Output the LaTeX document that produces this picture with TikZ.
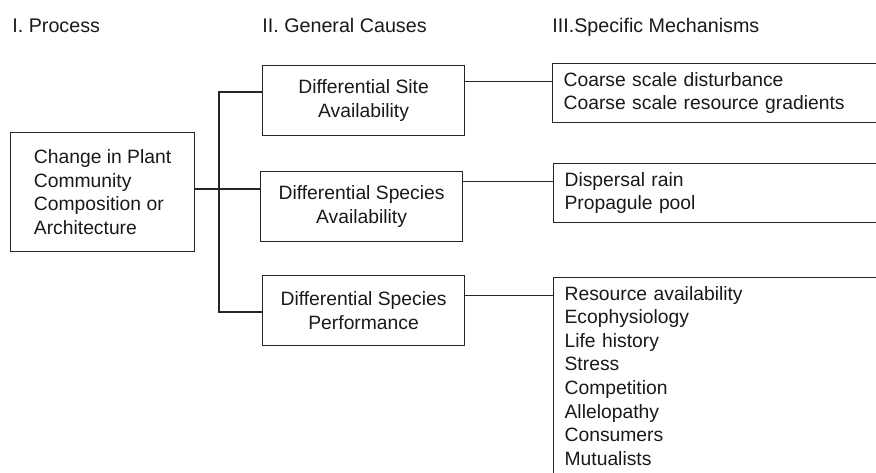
\documentclass[tikz,border=0pt]{standalone}
\usepackage{fontspec}
\setmainfont{Liberation Sans}
\usetikzlibrary{positioning,calc}

\begin{document}
\begin{tikzpicture}[x=0.5pt, y=-0.5pt,
  box/.style={draw=black!85, line width=0.6pt, text=black!90, font=\fontsize{9.65}{11.8}\selectfont},
  cause/.style={box, anchor=north west, minimum width=101pt, minimum height=35pt, align=center},
  mech/.style={box, anchor=north west, text width=200pt, align=left, inner xsep=5.5pt, inner ysep=4.3pt},
  head/.style={anchor=base west, inner sep=0pt, text=black!90, font=\fontsize{9.85}{12}\selectfont},
  link/.style={draw=black!85, line width=0.6pt}]
\useasboundingbox (0,0) rectangle (876,472);
\clip (0,0) rectangle (876,472);
% column headings
\node[head] (h1) at (12,32) {I. Process};
\node[head] (h2) at (262,32) {II. General Causes};
\node[head] (h3) at (552,32) {III.Specific Mechanisms};
% process
\node[box, anchor=north west, minimum width=92pt, minimum height=59.5pt, align=left] (proc) at (10,132)
  {Change in Plant\\Community\\Composition or\\Architecture};
% general causes
\node[cause] (gc1) at (262,65) {Differential Site\\Availability};
\node[cause] (gc2) at (260,171) {Differential Species\\Availability};
\node[cause] (gc3) at (262,275) {Differential Species\\Performance};
% specific mechanisms
\node[mech, minimum height=28.5pt] (sm1) at (552,63)
  {Coarse scale disturbance\\Coarse scale resource gradients};
\node[mech, minimum height=27.5pt] (sm2) at (553,163)
  {Dispersal rain\\Propagule pool};
\node[mech] (sm3) at (553,277)
  {Resource availability\\Ecophysiology\\Life history\\Stress\\Competition\\Allelopathy\\Consumers\\Mutualists};
% connectors
\coordinate (bus) at (219,189);
\coordinate (b1) at (219,92);
\coordinate (b3) at (219,312);
\draw[link] (bus -| proc.east) -- (bus -| gc2.west);
\draw[link] (b1 -| gc1.west) -- (b1) -- (b3) -- (b3 -| gc3.west);
\coordinate (j1) at ([yshift=9.75pt]gc1.east);
\coordinate (j2) at ([yshift=12.5pt]gc2.east);
\coordinate (j3) at ([yshift=7.5pt]gc3.east);
\draw[link] (j1) -- (j1 -| sm1.west);
\draw[link] (j2) -- (j2 -| sm2.west);
\draw[link] (j3) -- (j3 -| sm3.west);
\end{tikzpicture}
\end{document}
